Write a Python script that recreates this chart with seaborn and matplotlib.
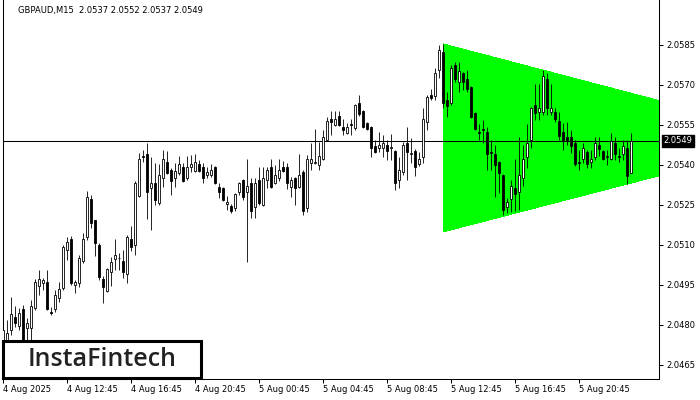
import numpy as np
import pandas as pd
import matplotlib
matplotlib.use("Agg")
from matplotlib import pyplot as plt
from matplotlib.patches import Rectangle, Polygon
import seaborn as sns

# GBPAUD M15 candles (bar 0 = 4 Aug 08:45)
opens = [2.04744, 2.04744, 2.04781, 2.04830, 2.04796, 2.04860, 2.04789, 2.04789, 2.04864, 2.04946,
         2.04957, 2.04961, 2.04849, 2.04860, 2.04901, 2.04939, 2.05081, 2.05122, 2.04950, 2.04957,
         2.05040, 2.05130, 2.05272, 2.05194, 2.05100, 2.04972, 2.04927, 2.04999, 2.05047, 2.05051,
         2.05040, 2.04991, 2.05122, 2.05100, 2.05284, 2.05434, 2.05441, 2.05314, 2.05332, 2.05257,
         2.05351, 2.05411, 2.05381, 2.05351, 2.05370, 2.05392, 2.05351, 2.05392, 2.05377, 2.05404,
         2.05392, 2.05362, 2.05362, 2.05392, 2.05317, 2.05314, 2.05254, 2.05246, 2.05239, 2.05299,
         2.05344, 2.05299, 2.05332, 2.05242, 2.05344, 2.05250, 2.05344, 2.05392, 2.05332, 2.05351,
         2.05392, 2.05392, 2.05317, 2.05351, 2.05317, 2.05374, 2.05239, 2.05407, 2.05407, 2.05400,
         2.05422, 2.05494, 2.05572, 2.05550, 2.05584, 2.05542, 2.05520, 2.05554, 2.05539, 2.05632,
         2.05602, 2.05557, 2.05542, 2.05471, 2.05464, 2.05464, 2.05475, 2.05464, 2.05452, 2.05344,
         2.05374, 2.05482, 2.05441, 2.05452, 2.05404, 2.05430, 2.05561, 2.05662, 2.05659, 2.05756,
         2.05824, 2.05644, 2.05632, 2.05775, 2.05711, 2.05745, 2.05722, 2.05692, 2.05595, 2.05524,
         2.05535, 2.05524, 2.05449, 2.05441, 2.05411, 2.05362, 2.05242, 2.05272, 2.05314, 2.05299,
         2.05351, 2.05430, 2.05494, 2.05625, 2.05599, 2.05599, 2.05722, 2.05599, 2.05599, 2.05565,
         2.05524, 2.05505, 2.05505, 2.05482, 2.05411, 2.05422, 2.05449, 2.05411, 2.05430, 2.05475,
         2.05452, 2.05434, 2.05422, 2.05482, 2.05434, 2.05441, 2.05464, 2.05370]
highs = [2.04800, 2.04819, 2.04905, 2.04871, 2.04864, 2.04875, 2.04826, 2.04894, 2.04972, 2.05006,
         2.04976, 2.05006, 2.04867, 2.04931, 2.04961, 2.05100, 2.05130, 2.05134, 2.04969, 2.05062,
         2.05145, 2.05302, 2.05287, 2.05194, 2.05107, 2.04984, 2.05014, 2.05055, 2.05122, 2.05070,
         2.05081, 2.05137, 2.05171, 2.05340, 2.05445, 2.05456, 2.05482, 2.05430, 2.05407, 2.05404,
         2.05456, 2.05452, 2.05389, 2.05407, 2.05434, 2.05407, 2.05434, 2.05437, 2.05441, 2.05419,
         2.05407, 2.05392, 2.05404, 2.05396, 2.05332, 2.05317, 2.05284, 2.05254, 2.05295, 2.05336,
         2.05347, 2.05422, 2.05351, 2.05351, 2.05392, 2.05392, 2.05392, 2.05422, 2.05400, 2.05422,
         2.05415, 2.05407, 2.05355, 2.05355, 2.05441, 2.05381, 2.05437, 2.05482, 2.05535, 2.05486,
         2.05531, 2.05580, 2.05602, 2.05602, 2.05602, 2.05572, 2.05557, 2.05572, 2.05629, 2.05662,
         2.05606, 2.05561, 2.05546, 2.05494, 2.05524, 2.05512, 2.05494, 2.05516, 2.05456, 2.05430,
         2.05486, 2.05542, 2.05501, 2.05460, 2.05449, 2.05614, 2.05662, 2.05685, 2.05764, 2.05850,
         2.05854, 2.05674, 2.05775, 2.05786, 2.05786, 2.05749, 2.05756, 2.05696, 2.05599, 2.05554,
         2.05569, 2.05542, 2.05494, 2.05475, 2.05415, 2.05366, 2.05276, 2.05344, 2.05422, 2.05505,
         2.05475, 2.05554, 2.05617, 2.05704, 2.05704, 2.05756, 2.05745, 2.05704, 2.05614, 2.05599,
         2.05557, 2.05561, 2.05531, 2.05494, 2.05456, 2.05482, 2.05456, 2.05456, 2.05505, 2.05505,
         2.05456, 2.05456, 2.05520, 2.05505, 2.05464, 2.05494, 2.05494, 2.05520]
lows = [2.04725, 2.04736, 2.04762, 2.04792, 2.04781, 2.04725, 2.04744, 2.04744, 2.04856, 2.04912,
        2.04931, 2.04856, 2.04837, 2.04849, 2.04886, 2.04931, 2.05044, 2.04950, 2.04920, 2.04942,
        2.05032, 2.05119, 2.05164, 2.05059, 2.04969, 2.04882, 2.04924, 2.04946, 2.05006, 2.05006,
        2.04976, 2.04957, 2.05077, 2.05062, 2.05280, 2.05411, 2.05197, 2.05156, 2.05250, 2.05250,
        2.05317, 2.05366, 2.05287, 2.05317, 2.05362, 2.05336, 2.05344, 2.05374, 2.05374, 2.05374,
        2.05332, 2.05351, 2.05355, 2.05329, 2.05276, 2.05265, 2.05231, 2.05220, 2.05227, 2.05287,
        2.05269, 2.05036, 2.05201, 2.05201, 2.05250, 2.05246, 2.05314, 2.05314, 2.05329, 2.05340,
        2.05374, 2.05310, 2.05280, 2.05250, 2.05314, 2.05212, 2.05224, 2.05381, 2.05404, 2.05381,
        2.05419, 2.05490, 2.05512, 2.05546, 2.05546, 2.05512, 2.05516, 2.05512, 2.05531, 2.05584,
        2.05539, 2.05531, 2.05430, 2.05445, 2.05449, 2.05430, 2.05419, 2.05419, 2.05306, 2.05314,
        2.05362, 2.05344, 2.05407, 2.05359, 2.05396, 2.05407, 2.05531, 2.05644, 2.05644, 2.05726,
        2.05614, 2.05580, 2.05625, 2.05711, 2.05674, 2.05681, 2.05674, 2.05576, 2.05531, 2.05494,
        2.05482, 2.05381, 2.05381, 2.05280, 2.05295, 2.05212, 2.05220, 2.05224, 2.05227, 2.05231,
        2.05321, 2.05389, 2.05464, 2.05569, 2.05569, 2.05587, 2.05587, 2.05587, 2.05561, 2.05494,
        2.05456, 2.05475, 2.05445, 2.05396, 2.05381, 2.05407, 2.05389, 2.05389, 2.05419, 2.05434,
        2.05419, 2.05400, 2.05419, 2.05419, 2.05411, 2.05419, 2.05329, 2.05370]
closes = [2.04781, 2.04770, 2.04841, 2.04807, 2.04845, 2.04744, 2.04807, 2.04871, 2.04961, 2.04972,
          2.04969, 2.04860, 2.04845, 2.04912, 2.04935, 2.05092, 2.05111, 2.04957, 2.04961, 2.05051,
          2.05122, 2.05280, 2.05182, 2.05107, 2.04980, 2.04942, 2.05010, 2.05036, 2.05062, 2.05051,
          2.04999, 2.05130, 2.05092, 2.05332, 2.05422, 2.05430, 2.05299, 2.05332, 2.05269, 2.05362,
          2.05422, 2.05370, 2.05340, 2.05377, 2.05404, 2.05340, 2.05392, 2.05404, 2.05411, 2.05377,
          2.05351, 2.05374, 2.05381, 2.05332, 2.05299, 2.05269, 2.05261, 2.05227, 2.05291, 2.05332,
          2.05280, 2.05321, 2.05227, 2.05332, 2.05257, 2.05351, 2.05381, 2.05317, 2.05362, 2.05381,
          2.05377, 2.05332, 2.05344, 2.05314, 2.05362, 2.05227, 2.05422, 2.05422, 2.05411, 2.05434,
          2.05505, 2.05565, 2.05561, 2.05572, 2.05550, 2.05531, 2.05542, 2.05550, 2.05625, 2.05591,
          2.05542, 2.05535, 2.05464, 2.05449, 2.05475, 2.05482, 2.05452, 2.05467, 2.05332, 2.05381,
          2.05475, 2.05449, 2.05445, 2.05392, 2.05422, 2.05572, 2.05655, 2.05651, 2.05745, 2.05831,
          2.05632, 2.05621, 2.05764, 2.05722, 2.05752, 2.05711, 2.05685, 2.05580, 2.05535, 2.05520,
          2.05531, 2.05441, 2.05445, 2.05400, 2.05370, 2.05231, 2.05261, 2.05321, 2.05291, 2.05362,
          2.05422, 2.05482, 2.05614, 2.05595, 2.05614, 2.05734, 2.05614, 2.05614, 2.05572, 2.05509,
          2.05494, 2.05490, 2.05471, 2.05404, 2.05407, 2.05464, 2.05404, 2.05422, 2.05482, 2.05460,
          2.05422, 2.05430, 2.05490, 2.05441, 2.05430, 2.05471, 2.05359, 2.05490]

# symmetrical triangle pattern (bar index, price)
tri_bars = [110, 200, 110]
tri_prices = [2.05854, 2.05500, 2.05149]

last_price = 2.0549
title = "GBPAUD,M15  2.0537 2.0552 2.0537 2.0549"

ytick_vals = [2.0465, 2.0480, 2.0495, 2.0510, 2.0525, 2.0540, 2.0555, 2.0570, 2.0585]
xtick_pos = [0, 16, 32, 48, 64, 80, 96, 112, 128, 144]
xtick_labels = ["4 Aug 2025", "4 Aug 12:45", "4 Aug 16:45", "4 Aug 20:45", "5 Aug 00:45",
                "5 Aug 04:45", "5 Aug 08:45", "5 Aug 12:45", "5 Aug 16:45", "5 Aug 20:45"]

bars = pd.DataFrame({"open": opens, "high": highs, "low": lows, "close": closes})
bars["idx"] = np.arange(len(bars))
up = bars["close"] >= bars["open"]

sns.set_theme(style="white")
plt.rcParams["font.family"] = ["DejaVu Sans"]

fig = plt.figure(figsize=(7, 4), dpi=100)
ax = fig.add_axes([2.5 / 700, 21 / 400, 656.5 / 700, 379 / 400])

ax.add_patch(Polygon(list(zip(tri_bars, tri_prices)), closed=True, facecolor="#00ff00",
                     edgecolor="none", antialiased=False, zorder=1))
ax.axhline(last_price, color="black", lw=0.75, zorder=2)

# candles: 1px wicks, 3px bodies
ax.vlines(bars["idx"], bars["low"], bars["high"], color="black", lw=0.6, zorder=3)
ax.bar(bars["idx"][up], (bars["close"] - bars["open"])[up], bottom=bars["open"][up],
       width=0.45, facecolor="white", edgecolor="black", lw=0.6, zorder=4)
ax.bar(bars["idx"][~up], (bars["open"] - bars["close"])[~up], bottom=bars["close"][~up],
       width=0.45, facecolor="black", edgecolor="black", lw=0.6, zorder=4)

ax.set_xlim(-0.125, 164)
ax.set_ylim(2.045975, 2.0601875)

ax.yaxis.tick_right()
ax.set_yticks(ytick_vals, [f"{v:.4f}" for v in ytick_vals])
ax.set_xticks(xtick_pos, xtick_labels, ha="left")
ax.tick_params(axis="y", right=True, left=False, direction="out", length=3, width=0.75,
               pad=2, labelsize=6, colors="black")
ax.tick_params(axis="x", bottom=True, direction="out", length=3, width=0.75,
               pad=1.5, labelsize=6, colors="black")
ax.grid(False)
for side in ["left", "right", "bottom"]:
    ax.spines[side].set_color("black")
    ax.spines[side].set_linewidth(0.75)
ax.spines["top"].set_visible(False)

ax.text(1.0065, last_price, f"{last_price:.4f}", transform=ax.get_yaxis_transform(),
        ha="left", va="center", fontsize=6, color="white", zorder=6, clip_on=False,
        bbox=dict(boxstyle="square,pad=0.2", facecolor="black", edgecolor="black"))

fig.text(18 / 700, 1 - 11 / 400, title, fontsize=6, color="black", va="center")

# logo box
fig.add_artist(Rectangle((3 / 700, 22 / 400), 198 / 700, 37 / 400, transform=fig.transFigure,
                         facecolor="white", edgecolor="black", lw=2.2, zorder=10))
fig.text(102 / 700, 1 - 359 / 400, "InstaFintech", fontsize=18, fontweight="semibold",
         family=["Open Sans", "DejaVu Sans"], color="#222222", ha="center", va="center", zorder=11)

fig.savefig("out.png", dpi=100)
